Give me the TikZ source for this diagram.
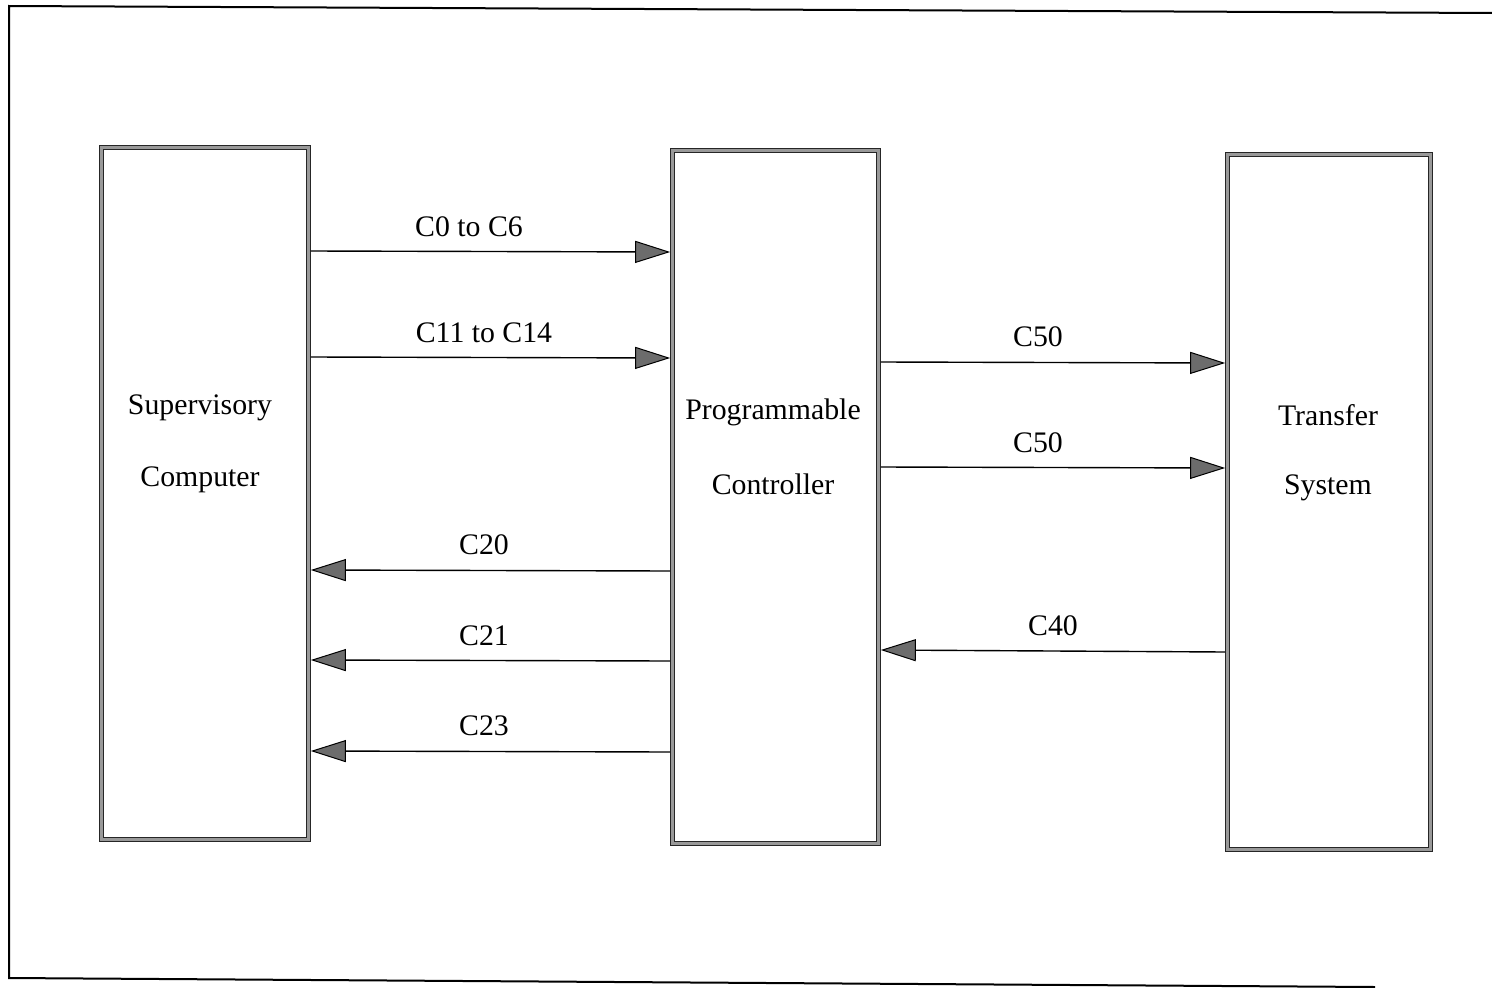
\documentclass[tikz,border=0pt]{standalone}
\usepackage{fontspec}
\setmainfont{Liberation Serif}
\usetikzlibrary{arrows.meta}
\begin{document}
\begin{tikzpicture}[x=1pt,y=-1pt,
  box/.style={draw=black!85, line width=0.9pt, double=gray!80, double distance=2.8pt, outer sep=2.3pt, inner sep=0pt, fill=white},
  arr/.style={line width=1.4pt, -{Triangle[length=35pt,width=22pt,fill=gray!85!black,line width=1pt]}},
  lab/.style={font=\fontsize{29.8}{34}\selectfont, inner sep=0pt},
  frame/.style={line width=2pt}]
\useasboundingbox (0,0) rectangle (1492,988);
% outer frame
\coordinate (ftl) at (9,6);
\coordinate (ftr) at (1492,13);
\coordinate (fbl) at (9,978);
\coordinate (fbr) at (1375,987);
\draw[frame] (ftr) -- (ftl) -- (fbl) -- (fbr);
% boxes
\node[box, minimum width=207pt, minimum height=692pt] (sup) at (205,493.5) {};
\node[box, minimum width=206pt, minimum height=693pt] (pc) at (775.5,497) {};
\node[box, minimum width=203pt, minimum height=695pt] (ts) at (1329,502) {};
% box texts
\node[lab] (supt1) at (200,408) {Supervisory};
\node[lab] (supt2) at (200,480) {Computer};
\node[lab] (pct1) at (773,412) {Programmable};
\node[lab] (pct2) at (773,484) {Controller};
\node[lab] (tst1) at (1328,415) {Transfer};
\node[lab] (tst2) at (1328,488) {System};
% arrows sup -> pc
\draw[arr] (sup.east |- 0,251) -- (pc.west |- 0,252);
\node[lab] (l1) at (469,227) {C0 to C6};
\draw[arr] (sup.east |- 0,357) -- (pc.west |- 0,358);
\node[lab] (l2) at (484,333) {C11 to C14};
% arrows pc -> sup
\draw[arr] (pc.west |- 0,571) -- (sup.east |- 0,570);
\node[lab] (l3) at (484,545) {C20};
\draw[arr] (pc.west |- 0,661) -- (sup.east |- 0,660);
\node[lab] (l4) at (484,636) {C21};
\draw[arr] (pc.west |- 0,752) -- (sup.east |- 0,751);
\node[lab] (l5) at (484,726) {C23};
% arrows pc -> ts
\draw[arr] (pc.east |- 0,362) -- (ts.west |- 0,363);
\node[lab] (l6) at (1038,337) {C50};
\draw[arr] (pc.east |- 0,467) -- (ts.west |- 0,468);
\node[lab] (l7) at (1038,443) {C50};
% arrow ts -> pc
\draw[arr] (ts.west |- 0,652) -- (pc.east |- 0,650);
\node[lab] (l8) at (1053,626) {C40};
\end{tikzpicture}
\end{document}
